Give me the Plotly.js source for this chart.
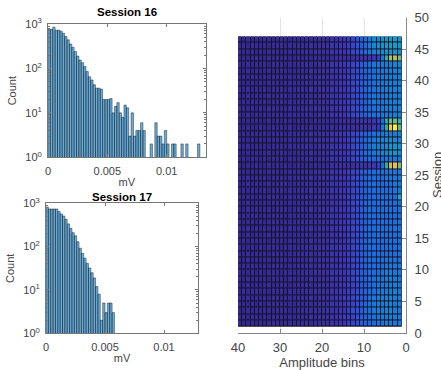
<!DOCTYPE html>
<html><head><meta charset="utf-8">
<script src="https://cdn.plot.ly/plotly-3.0.1.min.js"></script>
<style>html,body{margin:0;padding:0;background:#fff}#chart{width:441px;height:370px}</style>
</head><body><div id="chart"></div>
<script>
// ---- Histogram data (counts per 0.0002 mV bin) ----
const binWidth = 0.0002;
const counts16 = [760,760,850,720,730,690,620,520,440,355,300,240,190,155,135,110,85,65,55,43,
  36,36,34,20,20,20,21,10,14,17,10,8,15,13,3,10,3,4,4,6,4,0,0,2,0,6,3,3,2,4,2,0,2,2,0,0,2,0,2,0,0,0,0,2];
const counts17 = [820,740,740,740,740,650,570,510,430,335,265,210,178,130,92,70,54,41,32,25,19,12,8,2,5,3,5,5,3];
const histTickVals = [0, 0.005, 0.01];
const histTickText = ['0', '0.005', '0.01'];
const countTickVals = [1, 10, 100, 1000];
const countTickText = ['10<sup>0</sup>', '10<sup>1</sup>', '10<sup>2</sup>', '10<sup>3</sup>'];
const histTitles = ['Session 16', 'Session 17'];

// ---- Heatmap data ----
const ampEdges = [1,2,3,4,5,6,7,8,9,10,11,12,13,14,15,16,17,18,19,20,21,22,23,24,25,26,27,28,29,30,31,32,33,34,35,36,37,38,39,40];
const sessionEdges = [1,2,3,4,5,6,7,8,9,10,11,12,13,14,15,16,17,18,19,20,21,22,23,24,25,26,27,28,29,30,31,32,33,34,35,36,37,38,39,40,41,42,43,44,45,46,47];
// one string per session row (bottom to top), one base-36 level per amplitude bin (bin 1 first)
const rowLevels = [
  "ddeeddcba976"+"5443322"+"22121111101110101001",
  "deeeedcba986"+"5543322"+"21211111011101011010",
  "deffeedcb987"+"5443332"+"22121110111011010100",
  "eeffeedcb976"+"5443322"+"21121111011110101001",
  "eeffeedca986"+"5544322"+"21211111101101010101",
  "deeeedcba976"+"5443322"+"22121111011101011010",
  "deeeddcba976"+"5443322"+"21121110111011010100",
  "ddeeddcba986"+"5443322"+"21211111011101010101",
  "ddeedccba976"+"5443322"+"22121111101110101001",
  "ddddccbba976"+"5443322"+"21121111011101011010",
  "ccddccbba976"+"5443322"+"21211110111011010100",
  "ccccccbba976"+"5443322"+"21121111011101010101",
  "cccccbbba976"+"5443322"+"22121111101110101001",
  "ccccccbba976"+"5433322"+"21211111011101011010",
  "ccccccbba976"+"5443322"+"21121110111011010100",
  "ccccccbba976"+"5443322"+"21211111011101010101",
  "cccccbbba976"+"5443322"+"22121111101110101001",
  "ccccccbba976"+"5443322"+"21121111011101011010",
  "ccccccbba976"+"5443322"+"21211110111011010100",
  "cccccbbba976"+"5443322"+"21121111011101010101",
  "kcccccbba976"+"5443322"+"22121111101110101001",
  "ddccccbba976"+"5443322"+"21211111011101011010",
  "ddcccccba976"+"5443322"+"21121110111011010100",
  "ddddccbba976"+"5443322"+"21211111011101010101",
  "ddddcccba976"+"5443322"+"22121111101110101001",
  "qwvlc5443332"+"2222211"+"11010100101010010000",
  "ddddccbba976"+"5443322"+"21121111011101011010",
  "ghhgfedcb976"+"5443322"+"21211110111011010100",
  "ghhgfeecb986"+"5443322"+"21121111011101010101",
  "fgggfedcb986"+"5443322"+"22121111101110101001",
  "eeeeddcba976"+"5443322"+"21211111011101011010",
  "pzxld4433322"+"2221111"+"10101001010100100000",
  "mppkc5443332"+"2222111"+"11010100101010010000",
  "eeeeddcba976"+"5443322"+"21121111011101010101",
  "eeeeddcba976"+"5443322"+"22121111101110101001",
  "eeeedddba976"+"5443322"+"21211111011101011010",
  "eeeedddba976"+"5443322"+"21121110111011010100",
  "eeeeddcba976"+"5443322"+"21211111011101010101",
  "eeeeddcba976"+"5443322"+"22121111101110101001",
  "eeeeddcba976"+"5443322"+"21121111011101011010",
  "eeeeddcba976"+"5443322"+"21211110111011010100",
  "ffeeeddba976"+"5443322"+"21121111011101010101",
  "qttld5443332"+"2222111"+"11010100101010010000",
  "ghhhgfedb986"+"5443322"+"22121111101110101001",
  "hiiihgfdb986"+"5443322"+"21211111011101011010",
  "hiiihgfeca86"+"5443322"+"21121110111011010100"
];
const heatTickVals = [0, 10, 20, 30, 40];
const sessionTickVals = [0, 5, 10, 15, 20, 25, 30, 35, 40, 45, 50];
const heatXTitle = 'Amplitude bins';
const heatYTitle = 'Session';

// parula-like colour stops for levels 0..35
const levelStops = [0,2,4,6,8,10,12,14,16,18,20,23,26,29,32,35];
const levelColors = ['rgb(52,40,142)','rgb(58,46,160)','rgb(62,53,180)','rgb(58,67,205)','rgb(42,84,222)',
  'rgb(27,101,228)','rgb(19,116,225)','rgb(15,130,218)','rgb(12,145,210)','rgb(15,160,200)','rgb(25,172,185)',
  'rgb(60,185,155)','rgb(120,190,120)','rgb(180,188,90)','rgb(235,190,60)','rgb(250,245,20)'];

// ---- build ----
const colorscale = levelStops.map((s, i) => [s / 35, levelColors[i]]);
const z = rowLevels.map(r => r.split('').map(c => parseInt(c, 36)));
const centers = arr => arr.map((_, i) => (i + 0.5) * binWidth);
const nz = arr => arr.map(v => v > 0 ? v : null);

const barStyle = {color: 'rgba(0,114,189,0.58)', line: {color: 'rgba(0,0,0,0.8)', width: 0.5}};
const traces = [
  {type: 'bar', x: centers(counts16), y: nz(counts16), width: binWidth, marker: barStyle, xaxis: 'x', yaxis: 'y', hoverinfo: 'skip'},
  {type: 'bar', x: centers(counts17), y: nz(counts17), width: binWidth, marker: barStyle, xaxis: 'x2', yaxis: 'y2', hoverinfo: 'skip'},
  {type: 'heatmap', x: ampEdges, y: sessionEdges, z: z, colorscale: colorscale, zmin: 0, zmax: 35,
   showscale: false, xgap: 1, ygap: 1, xaxis: 'x3', yaxis: 'y3', hoverinfo: 'skip'}
];

const W = 441, H = 370;
const px = v => v / W, py = v => 1 - v / H;
const fam = 'Liberation Sans, Arial, sans-serif';
const tickFont = {family: fam, size: 11, color: '#444'};
const lineCol = '#777';

function histX(dom, maxv, anchor) {
  return {domain: dom, range: [0, maxv], anchor: anchor, tickmode: 'array', tickvals: histTickVals, ticktext: histTickText,
    ticks: 'inside', ticklen: 3, tickcolor: lineCol, showline: true, linecolor: lineCol, linewidth: 1, mirror: 'ticks',
    showgrid: false, zeroline: false, tickfont: tickFont, ticklabelstandoff: 3,
    title: {text: 'mV', font: {family: fam, size: 11, color: '#444'}, standoff: 2}};
}
function histY(dom, anchor) {
  return {domain: dom, type: 'log', range: [0, 3], anchor: anchor, tickmode: 'array', tickvals: countTickVals, ticktext: countTickText,
    ticks: 'inside', ticklen: 3, tickcolor: lineCol, showline: true, linecolor: lineCol, linewidth: 1, mirror: 'ticks',
    minor: {tickmode: 'array', tickvals: [2,3,4,5,6,7,8,9,20,30,40,50,60,70,80,90,200,300,400,500,600,700,800,900], ticks: 'inside', ticklen: 2, tickcolor: lineCol},
    showgrid: false, zeroline: false, tickfont: tickFont, ticklabelstandoff: 3,
    title: {text: 'Count', font: {family: fam, size: 11, color: '#444'}, standoff: 6}};
}
const bigFont = {family: fam, size: 13, color: '#444'};

const layout = {
  width: W, height: H, margin: {l: 0, r: 0, t: 0, b: 0}, paper_bgcolor: '#fff', plot_bgcolor: '#fff',
  showlegend: false, bargap: 0,
  font: {family: fam},
  xaxis: histX([px(48), px(205.5)], 0.01327, 'y'),
  yaxis: histY([py(157.3), py(24)], 'x'),
  xaxis2: histX([px(46), px(198)], 0.01288, 'y2'),
  yaxis2: histY([py(333.3), py(203.3)], 'x2'),
  xaxis3: {domain: [px(238), px(406)], range: [40, 0], anchor: 'y3', tickmode: 'array', tickvals: heatTickVals,
    ticks: 'inside', ticklen: 4, tickcolor: '#888', showline: true, linecolor: '#888', linewidth: 1,
    showgrid: true, gridcolor: '#e4e4e4', zeroline: false, tickfont: bigFont, ticklabelstandoff: 2,
    title: {text: heatXTitle, font: bigFont, standoff: 2}},
  yaxis3: {domain: [py(333), py(17.5)], range: [0, 50], anchor: 'x3', side: 'right', tickmode: 'array', tickvals: sessionTickVals,
    ticks: 'inside', ticklen: 4, tickcolor: '#888', showline: true, linecolor: '#888', linewidth: 1,
    showgrid: true, gridcolor: '#e4e4e4', zeroline: false, tickfont: bigFont, ticklabelstandoff: 5},
  shapes: [{type: 'rect', xref: 'x3', yref: 'y3', x0: ampEdges[0], x1: ampEdges[ampEdges.length - 1],
    y0: sessionEdges[0], y1: sessionEdges[sessionEdges.length - 1], fillcolor: '#14142c', line: {width: 0}, layer: 'between'}],
  annotations: [
    {text: '<b>' + histTitles[0] + '</b>', xref: 'paper', yref: 'paper', x: px(127), y: py(12.5), showarrow: false,
     font: {family: fam, size: 11.5, color: '#000'}, xanchor: 'center', yanchor: 'middle'},
    {text: '<b>' + histTitles[1] + '</b>', xref: 'paper', yref: 'paper', x: px(122), y: py(196.5), showarrow: false,
     font: {family: fam, size: 11.5, color: '#000'}, xanchor: 'center', yanchor: 'middle'},
    {text: heatYTitle, xref: 'paper', yref: 'paper', x: px(437), y: py(175), showarrow: false, textangle: -90,
     font: bigFont, xanchor: 'center', yanchor: 'middle'}
  ]
};

Plotly.newPlot('chart', traces, layout, {staticPlot: true, displayModeBar: false});
</script>
</body></html>
